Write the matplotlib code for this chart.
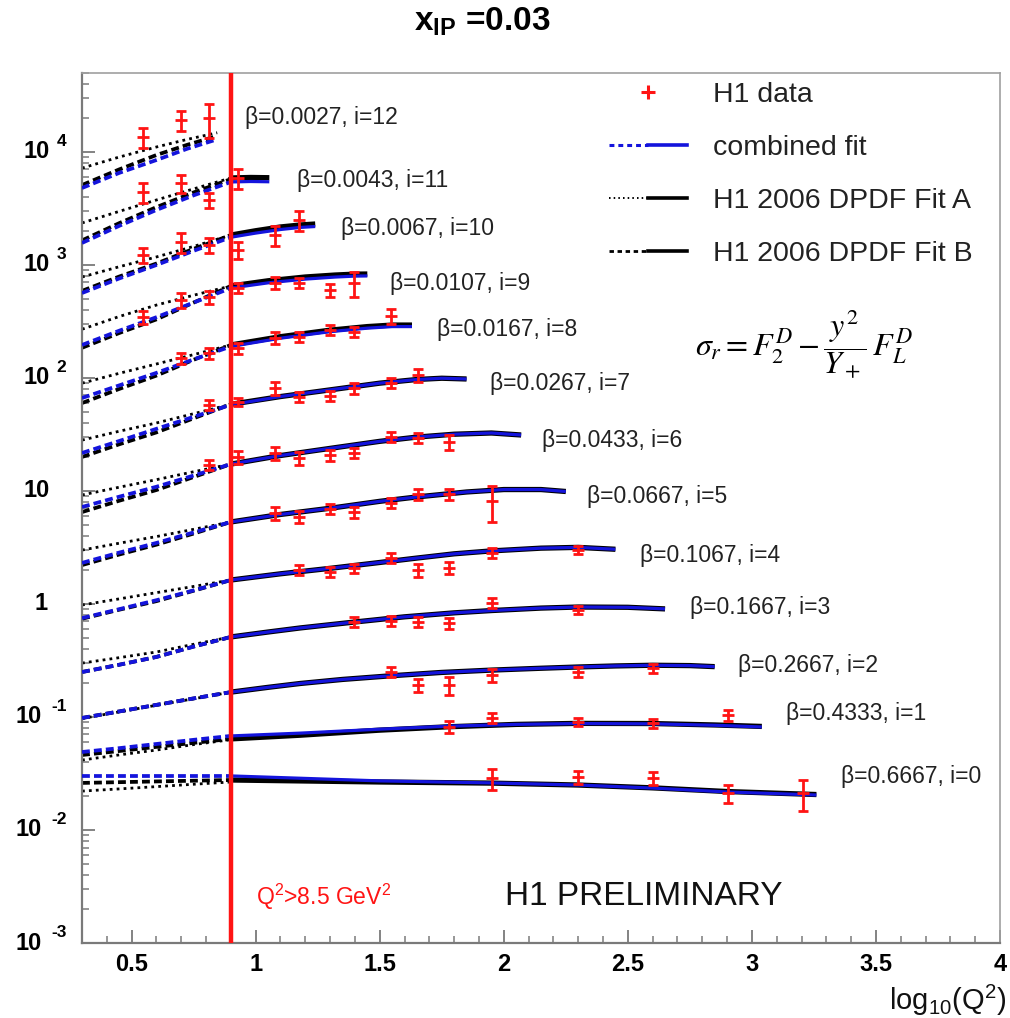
import numpy as np
import matplotlib
matplotlib.use("Agg")
import matplotlib.pyplot as plt
import matplotlib.transforms as mtransforms
from matplotlib.lines import Line2D
from matplotlib.legend_handler import HandlerTuple
from matplotlib.ticker import MultipleLocator, LogLocator, NullFormatter

plt.rcParams['font.family'] = ['Liberation Sans', 'DejaVu Sans']
plt.rcParams['mathtext.fontset'] = 'custom'
plt.rcParams['mathtext.rm'] = 'Liberation Sans'
plt.rcParams['mathtext.it'] = 'Liberation Sans:italic'
plt.rcParams['mathtext.bf'] = 'Liberation Sans:bold'

# ---------------- data ----------------
bin_i = [12, 11, 10, 9, 8, 7, 6, 5, 4, 3, 2, 1, 0]
beta = ['0.0027', '0.0043', '0.0067', '0.0107', '0.0167', '0.0267', '0.0433',
        '0.0667', '0.1067', '0.1667', '0.2667', '0.4333', '0.6667']

# fit curves below the Q2 cut (log10 Q2 nodes)
x_low = [[0.30, 0.45, 0.60, 0.725, 0.845]] + [[0.30, 0.45, 0.60, 0.75, 0.90]] * 12
comb_low = [[4800, 6530, 8490, 10700, 12950], [1567, 2220, 3070, 4135, 5430],
            [565, 760, 1000, 1335, 1760], [196, 262, 345, 465, 625],
            [66.5, 86, 111, 146, 190], [21.7, 27.7, 35.5, 45.3, 58.0],
            [7.22, 8.9, 10.9, 13.7, 17.3], [2.31, 2.85, 3.47, 4.3, 5.32],
            [0.75, 0.90, 1.08, 1.32, 1.63], [0.25, 0.29, 0.34, 0.42, 0.511],
            [0.098, 0.112, 0.128, 0.146, 0.166], [0.049, 0.053, 0.0577, 0.0628, 0.068],
            [0.0301, 0.0301, 0.0301, 0.0301, 0.0301]]
fitA_low = [[7200, 9020, 11070, 12940, 14800], [2355, 2982, 3760, 4716, 5890],
            [783, 965, 1178, 1460, 1840], [270, 350, 442, 540, 652],
            [90, 110, 133, 161, 196], [28.2, 33.8, 40.0, 48.3, 58.5],
            [9.22, 10.8, 12.6, 14.8, 17.3], [3.0, 3.45, 3.95, 4.58, 5.32],
            [0.98, 1.11, 1.26, 1.43, 1.63], [0.30, 0.335, 0.376, 0.44, 0.511],
            [0.097, 0.111, 0.127, 0.145, 0.166], [0.0416, 0.0462, 0.051, 0.057, 0.063],
            [0.0221, 0.0231, 0.0242, 0.0254, 0.0266]]
fitB_low = [[5100, 7010, 9400, 11590, 13860], [1650, 2345, 3250, 4385, 5750],
            [590, 790, 1030, 1390, 1840], [185, 250, 330, 465, 652],
            [60, 80, 105, 145, 196], [20.0, 25.9, 33.0, 44.0, 58.5],
            [6.51, 8.2, 10.2, 13.3, 17.3], [2.21, 2.74, 3.35, 4.2, 5.32],
            [0.74, 0.89, 1.06, 1.31, 1.63], [0.25, 0.29, 0.34, 0.42, 0.511],
            [0.098, 0.112, 0.128, 0.146, 0.166], [0.0461, 0.050, 0.0544, 0.059, 0.064],
            [0.0261, 0.0265, 0.0269, 0.0273, 0.0277]]

# fit curves above the Q2 cut
x_high = [[], [0.90, 0.98, 1.055],
          [0.90, 1.00, 1.10, 1.18, 1.24],
          [0.90, 1.05, 1.20, 1.32, 1.40, 1.45],
          [0.90, 1.10, 1.30, 1.45, 1.55, 1.63],
          [0.90, 1.10, 1.30, 1.50, 1.65, 1.75, 1.85],
          [0.90, 1.10, 1.31, 1.50, 1.65, 1.80, 1.95, 2.07],
          [0.90, 1.10, 1.31, 1.50, 1.65, 1.85, 2.00, 2.15, 2.25],
          [0.90, 1.10, 1.31, 1.50, 1.65, 1.80, 1.95, 2.15, 2.30, 2.45],
          [0.90, 1.05, 1.18, 1.40, 1.60, 1.80, 1.95, 2.15, 2.30, 2.50, 2.65],
          [0.90, 1.05, 1.18, 1.35, 1.55, 1.75, 1.95, 2.15, 2.30, 2.45, 2.60, 2.75, 2.85],
          [0.90, 1.18, 1.50, 1.78, 2.05, 2.30, 2.60, 2.85, 3.04],
          [0.90, 1.50, 1.95, 2.30, 2.60, 2.90, 3.26]]
comb_high = [[], [5430, 5480, 5450],
             [1760, 1915, 2060, 2150, 2190],
             [625, 695, 750, 782, 797, 800],
             [190, 225, 257, 276, 285, 285],
             [58.0, 68.5, 78.5, 90, 97, 99.5, 98],
             [17.3, 20.6, 24.0, 27.5, 30.0, 31.8, 32.6, 31.3],
             [5.32, 6.2, 7.08, 8.1, 8.86, 9.8, 10.3, 10.3, 9.9],
             [1.63, 1.85, 2.08, 2.33, 2.55, 2.78, 2.95, 3.12, 3.17, 3.05],
             [0.511, 0.565, 0.614, 0.693, 0.77, 0.835, 0.875, 0.92, 0.94, 0.935, 0.905],
             [0.166, 0.183, 0.198, 0.215, 0.232, 0.248, 0.260, 0.270, 0.277, 0.283, 0.287, 0.285, 0.279],
             [0.068, 0.072, 0.078, 0.083, 0.086, 0.0875, 0.0870, 0.0845, 0.0816],
             [0.0301, 0.0272, 0.0261, 0.0250, 0.0235, 0.0217, 0.0204]]
fitAB_high = [[], [5890, 5950, 5920],
              [1840, 2010, 2170, 2260, 2305],
              [652, 725, 783, 815, 830, 832],
              [196, 232, 265, 285, 294, 294],
              [58.5, 68.5, 78.5, 90, 97, 99.5, 98],
              [17.3, 20.6, 24.0, 27.5, 30.0, 31.8, 32.6, 31.3],
              [5.32, 6.2, 7.08, 8.1, 8.86, 9.8, 10.3, 10.3, 9.9],
              [1.63, 1.85, 2.08, 2.33, 2.55, 2.78, 2.95, 3.12, 3.17, 3.05],
              [0.511, 0.565, 0.614, 0.693, 0.77, 0.835, 0.875, 0.92, 0.94, 0.935, 0.905],
              [0.166, 0.183, 0.198, 0.215, 0.232, 0.248, 0.260, 0.270, 0.277, 0.283, 0.287, 0.285, 0.279],
              [0.064, 0.069, 0.0765, 0.082, 0.086, 0.0878, 0.0875, 0.085, 0.0825],
              [0.0277, 0.0266, 0.0260, 0.0250, 0.0236, 0.0219, 0.0206]]

# H1 data: Q2 [GeV^2], reduced cross section (x 3^i), uncertainty
data_q2 = [[3.5, 5, 6.5], [3.5, 5, 6.5, 8.5], [3.5, 5, 6.5, 8.5, 12, 15],
           [3.5, 5, 6.5, 8.5, 12, 15, 20, 25], [5, 6.5, 8.5, 12, 15, 20, 25, 35],
           [6.5, 8.5, 12, 15, 20, 25, 35, 45], [6.5, 8.5, 12, 15, 20, 25, 35, 45, 60],
           [12, 15, 20, 25, 35, 45, 60, 90], [15, 20, 25, 35, 45, 60, 90, 200],
           [25, 35, 45, 60, 90, 200], [35, 45, 60, 90, 200, 400],
           [60, 90, 200, 400, 800], [90, 200, 400, 800, 1600]]
data_val = [[13600, 19200, 20000], [4430, 5320, 3760, 5890],
            [1225, 1600, 1500, 1360, 1840, 2500],
            [347, 490, 521, 625, 693, 693, 600, 693],
            [150, 166, 184, 226, 231, 266, 255, 354],
            [57.7, 61.4, 81.7, 67.9, 69.3, 81.7, 90.4, 106],
            [17.0, 20.0, 21.7, 19.6, 20.8, 21.7, 30.1, 29.4, 27.2],
            [6.38, 5.89, 6.93, 6.51, 7.83, 9.4, 9.4, 8.17],
            [2.0, 1.92, 2.08, 2.55, 2.0, 2.08, 2.83, 3.0],
            [0.693, 0.708, 0.693, 0.679, 1.02, 0.885],
            [0.25, 0.192, 0.19, 0.235, 0.25, 0.272],
            [0.0817, 0.098, 0.0903, 0.0884, 0.104],
            [0.0288, 0.0294, 0.0288, 0.0212, 0.0212]]
data_err = [[2800, 4000, 6600], [900, 1000, 560, 1200],
            [180, 320, 225, 230, 370, 500],
            [45, 75, 68, 63, 83, 70, 78, 170],
            [18, 20, 22, 27, 23, 27, 26, 55],
            [6, 5, 11, 7, 7, 9, 9, 14],
            [1.8, 2.6, 2.8, 2.5, 2.3, 2.3, 3, 3, 4],
            [0.85, 0.7, 0.7, 0.7, 0.8, 1.0, 1.0, 2.9],
            [0.2, 0.2, 0.2, 0.25, 0.25, 0.25, 0.3, 0.25],
            [0.07, 0.07, 0.07, 0.08, 0.1, 0.07],
            [0.025, 0.025, 0.035, 0.03, 0.025, 0.025],
            [0.01, 0.01, 0.007, 0.008, 0.012],
            [0.006, 0.004, 0.004, 0.004, 0.0065]]

# bin label anchors (log10 Q2, value)
label_x = [0.955, 1.165, 1.342, 1.540, 1.730, 1.944, 2.155, 2.336, 2.550, 2.752, 2.942, 3.136, 3.359]
label_y = [2.0e4, 5650, 2085, 680, 266, 88.5, 27.7, 8.85, 2.66, 0.94, 0.283, 0.108, 0.030]

q2_cut_log = 0.9

# ---------------- styles ----------------
BLUE = '#1414dc'
RED = '#ff1414'
GRAY = '#7a7a7a'
DASH = (0, (2.1, 1.1))
DOT = (0, (1, 1.5))

fig = plt.figure(figsize=(10.10, 10.18), dpi=100)
ax = fig.add_axes([82 / 1010, 75 / 1018, 918 / 1010, 870 / 1018])
ax.set_yscale('log')
ax.set_xlim(0.3, 4.0)
ax.set_ylim(1e-3, 5e4)

for k in range(len(bin_i)):
    ax.plot(x_low[k], fitA_low[k], color='black', ls=DOT, lw=2.0, zorder=2)
    ax.plot(x_low[k], fitB_low[k], color='black', ls=DASH, lw=2.7, zorder=2)
    ax.plot(x_low[k], comb_low[k], color=BLUE, ls=DASH, lw=2.7, zorder=3)
    if x_high[k]:
        ax.plot(x_high[k], fitAB_high[k], color='black', lw=3.8, zorder=2,
                solid_capstyle='butt', solid_joinstyle='round')
        ax.plot(x_high[k], comb_high[k], color=BLUE, lw=2.3, zorder=3,
                solid_capstyle='butt', solid_joinstyle='round')
    ax.errorbar(np.log10(data_q2[k]), data_val[k], yerr=data_err[k], fmt='_',
                color=RED, ms=8, mew=2.0, elinewidth=2.0, capsize=3.8,
                capthick=2.0, zorder=6)
    ax.text(label_x[k], label_y[k], f'\u03b2={beta[k]}, i={bin_i[k]}',
            fontsize=16.5, va='center', ha='left', color='#222222', zorder=7)

ax.axvline(q2_cut_log, color=RED, lw=3.2, zorder=5)

# ---------------- axes styling ----------------
for side in ['left', 'bottom']:
    ax.spines[side].set_color(GRAY)
    ax.spines[side].set_linewidth(1.6)
for side in ['top', 'right']:
    ax.spines[side].set_color('#a0a0a0')
    ax.spines[side].set_linewidth(1.2)

ax.xaxis.set_major_locator(MultipleLocator(0.5))
ax.xaxis.set_minor_locator(MultipleLocator(0.1))
ax.yaxis.set_major_locator(LogLocator(base=10, numticks=20))
ax.yaxis.set_minor_locator(LogLocator(base=10, subs=np.arange(2, 10), numticks=100))
ax.yaxis.set_minor_formatter(NullFormatter())
ax.set_yticklabels([])
ax.tick_params(which='both', direction='in', color=GRAY, top=False, right=False)
ax.tick_params(which='major', length=9.5, width=1.3)
ax.tick_params(which='minor', length=5, width=1.1)
ax.tick_params(axis='x', which='major', labelsize=17, pad=7)
xt = [0.5, 1, 1.5, 2, 2.5, 3, 3.5, 4]
ax.set_xticks(xt)
ax.set_xticklabels(['0.5', '1', '1.5', '2', '2.5', '3', '3.5', '4'], fontweight='bold')

trans = mtransforms.blended_transform_factory(ax.transAxes, ax.transData)
for e in range(-3, 5):
    yv = 10.0 ** e
    if e == 0:
        ax.annotate('1', xy=(0, yv), xycoords=trans, xytext=(-25, 0),
                    textcoords='offset points', ha='right', va='center',
                    fontsize=17, fontweight='bold')
    elif e == 1:
        ax.annotate('10', xy=(0, yv), xycoords=trans, xytext=(-23, 0),
                    textcoords='offset points', ha='right', va='center',
                    fontsize=17, fontweight='bold')
    else:
        bx = -23 if e > 0 else -29
        ex = -18.5 if e > 0 else -22
        ax.annotate('10', xy=(0, yv), xycoords=trans, xytext=(bx, 0),
                    textcoords='offset points', ha='right', va='center',
                    fontsize=17, fontweight='bold')
        ax.annotate(str(e), xy=(0, yv), xycoords=trans, xytext=(ex, 7.5),
                    textcoords='offset points', ha='left', va='center',
                    fontsize=12.5, fontweight='bold')

# ---------------- legend ----------------
h_data = Line2D([], [], color=RED, marker='+', ls='none', ms=10, mew=2.2)
h_comb = (Line2D([], [], color=BLUE, ls=(0, (1.6, 1.3)), lw=2.2),
          Line2D([], [], color=BLUE, lw=2.6))
h_A = (Line2D([], [], color='black', ls=(0, (0.8, 1.6)), lw=1.4),
       Line2D([], [], color='black', lw=2.6))
h_B = (Line2D([], [], color='black', ls=(0, (1.6, 1.3)), lw=2.0),
       Line2D([], [], color='black', lw=2.6))
leg = ax.legend([h_data, h_comb, h_A, h_B],
                ['H1 data', 'combined fit', 'H1 2006 DPDF Fit A', 'H1 2006 DPDF Fit B'],
                handler_map={tuple: HandlerTuple(ndivide=None, pad=0)},
                loc='upper left', bbox_to_anchor=(0.574, 0.990), frameon=False,
                fontsize=20.5, handlelength=2.75, handletextpad=0.9,
                labelspacing=0.95, borderaxespad=0, borderpad=0)
for t in leg.get_texts():
    t.set_color('#222222')

ax.text(0.668, 0.688, r'$\sigma_r = F_2^D - \dfrac{y^2}{Y_+}\, F_L^D$',
        transform=ax.transAxes, fontsize=23, math_fontfamily='stix',
        ha='left', va='center')

ax.text(0.461, 0.053, 'H1 PRELIMINARY', transform=ax.transAxes, fontsize=24,
        ha='left', va='center', color='#111111')
ax.text(0.190, 0.053, r'Q$^2$>8.5 GeV$^2$', transform=ax.transAxes, fontsize=16.5,
        ha='left', va='center', color=RED)

fig.text(482 / 1010, 1 - 22 / 1018, r'$\mathbf{x}_{\mathbf{IP}}$ =0.03', fontsize=24,
         fontweight='bold', ha='center', va='center')
fig.text(1006 / 1010, 1 - 1000 / 1018, r'log$_{10}$(Q$^2$)', fontsize=21,
         ha='right', va='center', color='#111111')

fig.savefig('out.png', dpi=100)
